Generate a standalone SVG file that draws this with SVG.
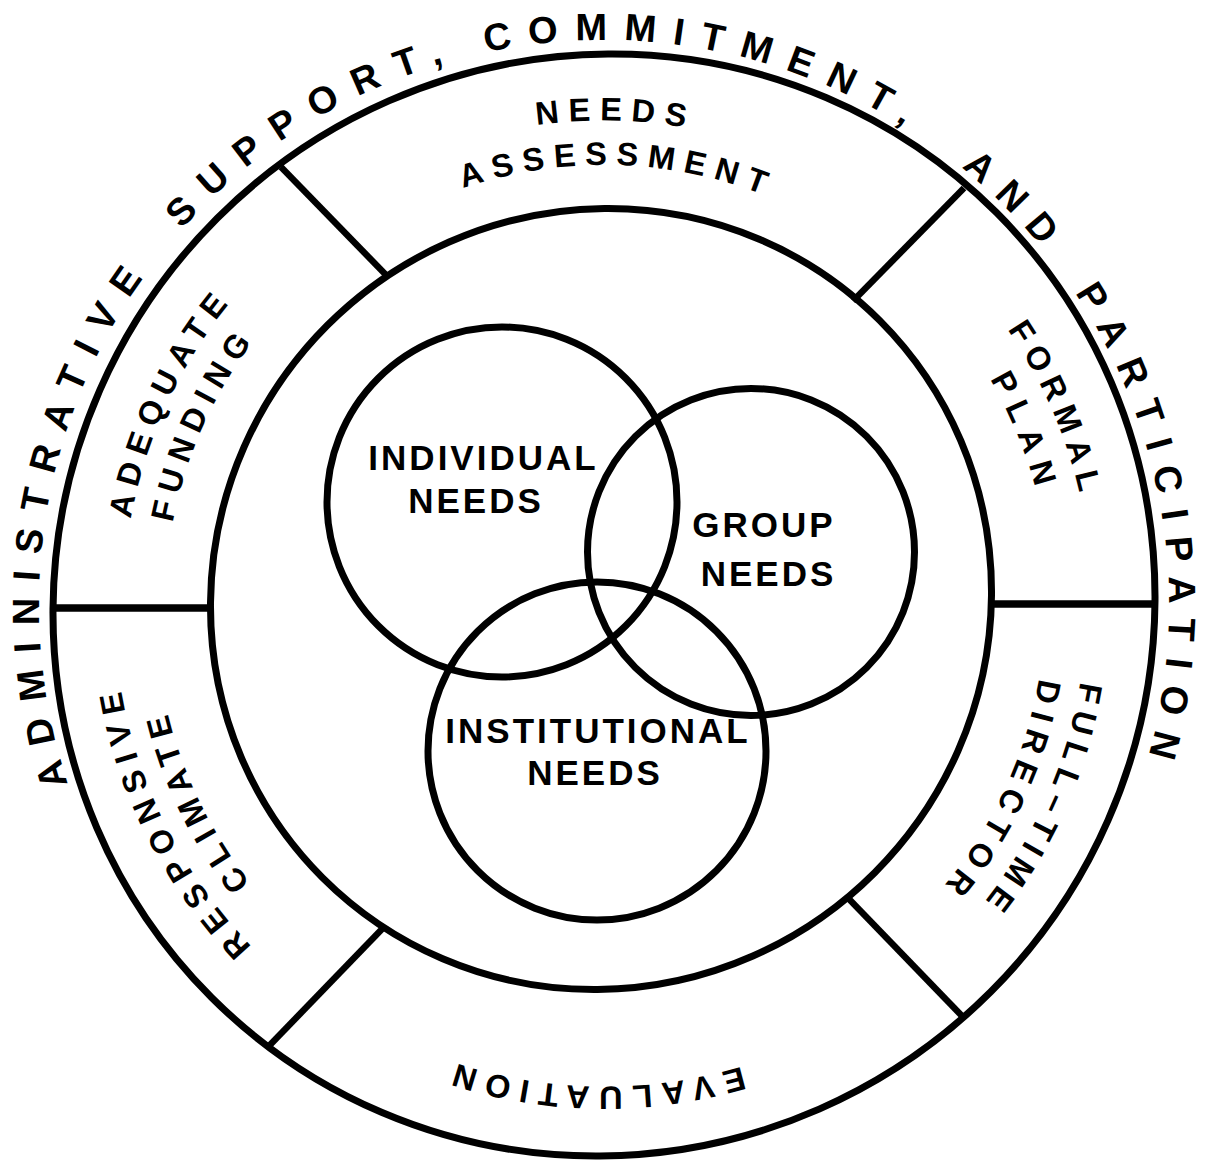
<svg xmlns="http://www.w3.org/2000/svg" xmlns:xlink="http://www.w3.org/1999/xlink" width="1207" height="1161" viewBox="0 0 1207 1161">
  <style>
    .ring { fill: none; stroke: #000; stroke-width: 7; }
    .div { stroke: #000; stroke-width: 6.5; stroke-linecap: butt; }
    .hdiv { stroke: #000; stroke-width: 7.5; stroke-linecap: butt; }
    .title { font-family: "Liberation Sans", Arial, Helvetica, sans-serif; font-weight: bold; font-size: 38px; fill: #000; }
    .lbl { font-family: "Liberation Sans", Arial, Helvetica, sans-serif; font-weight: bold; font-size: 32.5px; fill: #000; text-anchor: middle; }
    .venn { font-family: "Liberation Sans", Arial, Helvetica, sans-serif; font-weight: bold; font-size: 35px; fill: #000; text-anchor: middle; letter-spacing: 3px; }
  </style>
  <defs>
    <!-- outer title baseline: circle r=565 from 150deg clockwise to 30deg -->
    <path id="titleArc" d="M114.7,887.5 A565,565 0 1 1 1093.3,887.5"/>
    <!-- label baselines: arcs centred on the top of the ring, rotated into each sector -->
    <path id="a484" d="M126.86,520.87 A484.5,484.5 0 0 1 1081.14,520.87"/>
    <path id="a440" d="M170.68,528.59 A440,440 0 0 1 1037.32,528.59"/>
    <path id="a481" d="M130.31,521.47 A481,481 0 0 1 1077.69,521.47"/>
    <path id="a439" d="M171.67,528.77 A439,439 0 0 1 1036.33,528.77"/>
    <path id="a488" d="M122.92,520.17 A488.5,488.5 0 0 1 1085.08,520.17"/>
    <path id="a447" d="M163.79,527.38 A447,447 0 0 1 1044.21,527.38"/>
    <path id="a482" d="M128.83,521.21 A482.5,482.5 0 0 1 1079.17,521.21"/>
    <path id="a441" d="M169.70,528.42 A441,441 0 0 1 1038.30,528.42"/>
    <path id="a481b" d="M129.81,521.39 A481.5,481.5 0 0 1 1078.19,521.39"/>
    <path id="a490" d="M120.95,519.83 A490.5,490.5 0 0 1 1087.05,519.83"/>
    <path id="a449" d="M161.33,526.94 A449.5,449.5 0 0 1 1046.67,526.94"/>
  </defs>

  <rect width="1207" height="1161" fill="#fff"/>

  <!-- rings -->
  <g id="outer-ring">
    <ellipse class="ring" cx="604" cy="605" rx="555" ry="547" transform="rotate(-45 604 605)"/>
  </g>
  <g id="inner-ring">
    <ellipse class="ring" cx="601" cy="599" rx="394" ry="387" transform="rotate(-45 601 599)"/>
  </g>

  <!-- sector dividers -->
  <g id="connectors">
    <line class="div" x1="281" y1="167" x2="388" y2="277"/>
    <line class="div" x1="964" y1="188" x2="853" y2="301"/>
    <line class="div" x1="268" y1="1047" x2="383" y2="928"/>
    <line class="div" x1="962" y1="1016" x2="848" y2="898"/>
    <line class="hdiv" x1="52" y1="608" x2="211" y2="608"/>
    <line class="hdiv" x1="992" y1="604" x2="1156" y2="604"/>
  </g>

  <!-- title around the outside -->
  <g id="title">
    <text class="title"><textPath xlink:href="#titleArc" href="#titleArc" startOffset="113.5" style="letter-spacing:16.2px">ADMINISTRATIVE</textPath></text>
    <text class="title"><textPath xlink:href="#titleArc" href="#titleArc" startOffset="706.2" style="letter-spacing:17.8px">SUPPORT,</textPath></text>
    <text class="title"><textPath xlink:href="#titleArc" href="#titleArc" startOffset="1064.1" style="letter-spacing:16.7px">COMMITMENT,</textPath></text>
    <text class="title"><textPath xlink:href="#titleArc" href="#titleArc" startOffset="1570" style="letter-spacing:15px">AND</textPath></text>
    <text class="title"><textPath xlink:href="#titleArc" href="#titleArc" startOffset="1739.6" style="letter-spacing:16.3px">PARTICIPATION</textPath></text>
  </g>

  <!-- ring sectors -->
  <g id="needs-assessment">
    <text class="lbl" transform="rotate(1.35 604 605)" style="letter-spacing:9.3px"><textPath xlink:href="#a484" href="#a484" startOffset="50%">NEEDS</textPath></text>
    <text class="lbl" transform="rotate(1.8 604 605)" style="letter-spacing:9.1px"><textPath xlink:href="#a440" href="#a440" startOffset="50%">ASSESSMENT</textPath></text>
  </g>
  <g id="adequate-funding">
    <text class="lbl" transform="rotate(-65 604 605)" style="letter-spacing:8.4px"><textPath xlink:href="#a481" href="#a481" startOffset="50%">ADEQUATE</textPath></text>
    <text class="lbl" transform="rotate(-65.7 604 605)" style="letter-spacing:8.4px"><textPath xlink:href="#a439" href="#a439" startOffset="50%">FUNDING</textPath></text>
  </g>
  <g id="formal-plan">
    <text class="lbl" transform="rotate(66.65 604 605)" style="letter-spacing:8.1px"><textPath xlink:href="#a488" href="#a488" startOffset="50%">FORMAL</textPath></text>
    <text class="lbl" transform="rotate(67.8 604 605)" style="letter-spacing:9.8px"><textPath xlink:href="#a447" href="#a447" startOffset="50%">PLAN</textPath></text>
  </g>
  <g id="full-time-director">
    <text class="lbl" transform="rotate(113.95 604 605)" style="letter-spacing:7.9px"><textPath xlink:href="#a482" href="#a482" startOffset="50%">FULL–TIME</textPath></text>
    <text class="lbl" transform="rotate(115.05 604 605)" style="letter-spacing:8.7px"><textPath xlink:href="#a441" href="#a441" startOffset="50%">DIRECTOR</textPath></text>
  </g>
  <g id="evaluation">
    <text class="lbl" transform="rotate(181.15 604 605)" style="letter-spacing:9.2px"><textPath xlink:href="#a481b" href="#a481b" startOffset="50%">EVALUATION</textPath></text>
  </g>
  <g id="responsive-climate">
    <text class="lbl" transform="rotate(-116.6 604 605)" style="letter-spacing:8.9px"><textPath xlink:href="#a490" href="#a490" startOffset="50%">RESPONSIVE</textPath></text>
    <text class="lbl" transform="rotate(-115.6 604 605)" style="letter-spacing:8px"><textPath xlink:href="#a449" href="#a449" startOffset="50%">CLIMATE</textPath></text>
  </g>

  <!-- Venn of needs -->
  <g id="individual-needs">
    <circle class="ring" cx="502" cy="502" r="175"/>
    <text class="venn" x="483.5" y="470">INDIVIDUAL</text>
    <text class="venn" x="476" y="513">NEEDS</text>
  </g>
  <g id="group-needs">
    <circle class="ring" cx="751" cy="552" r="163.5"/>
    <text class="venn" x="764" y="537">GROUP</text>
    <text class="venn" x="768.5" y="586">NEEDS</text>
  </g>
  <g id="institutional-needs">
    <circle class="ring" cx="597" cy="751" r="169"/>
    <text class="venn" x="598" y="743">INSTITUTIONAL</text>
    <text class="venn" x="595" y="785">NEEDS</text>
  </g>
</svg>
